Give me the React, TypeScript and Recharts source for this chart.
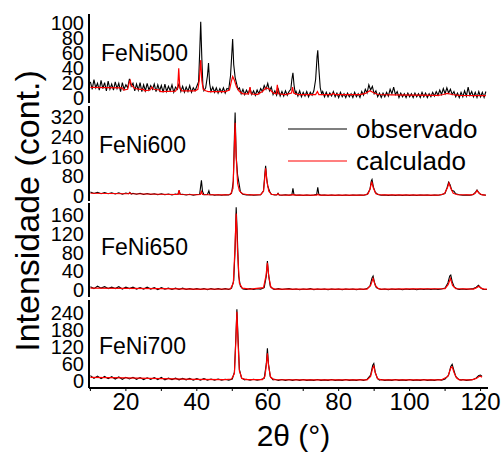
import { LineChart, Line, XAxis, YAxis, Legend, Label } from 'recharts';

// 2θ grid ticks
const xTicks = [10, 20, 30, 40, 50, 60, 70, 80, 90, 100, 110, 120];
const xLabelTicks = [20, 40, 60, 80, 100, 120];

const sampleNames = ['FeNi500', 'FeNi600', 'FeNi650', 'FeNi700'];
const seriesNames = ['observado', 'calculado'];

const yTicks500 = [0, 20, 40, 60, 80, 100];
const yTicks600 = [0, 80, 160, 240, 320];
const yTicks650 = [0, 40, 80, 120, 160];
const yTicks700 = [0, 60, 120, 180, 240];

// [2θ, intensity]
const obs500 = [
  [10, 22], [10.5, 12], [11, 25], [11.5, 14], [12, 20], [12.5, 11], [13, 24], [13.5, 13], [14, 21], [14.5, 10],
  [15, 23], [15.5, 12], [16, 19], [16.5, 11], [17, 22], [17.5, 13], [18, 20], [18.5, 9], [19, 21], [19.5, 12],
  [20, 18], [20.5, 14], [21, 26], [21.5, 16], [22, 20], [22.5, 10], [23, 19], [23.5, 11], [24, 21], [24.5, 9],
  [25, 18], [25.5, 10], [26, 20], [26.5, 11], [27, 17], [27.5, 12], [28, 19], [28.5, 9], [29, 18], [29.5, 10],
  [30, 17], [30.5, 8], [31, 19], [31.5, 9], [32, 16], [32.5, 10], [33, 18], [33.5, 8], [34, 15], [34.5, 12],
  [35, 20], [35.5, 9], [36, 16], [36.5, 8], [37, 15], [37.5, 9], [38, 17], [38.5, 8], [39, 14], [39.5, 10],
  [40, 16], [40.5, 22], [40.8, 60], [41.1, 102], [41.4, 55], [41.7, 18], [42, 10], [42.5, 14], [43, 30], [43.3, 47],
  [43.6, 20], [44, 9], [44.5, 15], [45, 8], [45.5, 14], [46, 7], [46.5, 13], [47, 8], [47.5, 14], [48, 7],
  [48.5, 13], [49, 12], [49.5, 30], [49.9, 62], [50.1, 79], [50.4, 45], [50.8, 28], [51.2, 20], [51.6, 12], [52, 14],
  [52.5, 6], [53, 12], [53.5, 5], [54, 11], [54.5, 6], [55, 13], [55.5, 5], [56, 10], [56.5, 4], [57, 11],
  [57.5, 6], [58, 13], [58.5, 9], [59, 17], [59.5, 12], [60, 20], [60.5, 10], [61, 15], [61.5, 5], [62, 10],
  [62.5, 4], [63, 12], [63.5, 3], [64, 9], [64.5, 3], [65, 10], [65.5, 4], [66, 9], [66.5, 12], [66.8, 25],
  [67.1, 34], [67.4, 18], [67.8, 5], [68, 9], [68.5, 3], [69, 10], [69.5, 2], [70, 8], [70.5, 3], [71, 9],
  [71.5, 2], [72, 8], [72.5, 4], [73, 10], [73.5, 25], [73.9, 55], [74.1, 64], [74.4, 40], [74.8, 14], [75.2, 6],
  [75.5, 9], [76, 2], [76.5, 8], [77, 2], [77.5, 7], [78, 3], [78.5, 9], [79, 2], [79.5, 7], [80, 1],
  [80.5, 8], [81, 2], [81.5, 6], [82, 1], [82.5, 7], [83, 2], [83.5, 6], [84, 1], [84.5, 8], [85, 2],
  [85.5, 6], [86, 1], [86.5, 9], [87, 4], [87.5, 12], [88, 7], [88.5, 18], [89, 11], [89.5, 16], [90, 6],
  [90.5, 10], [91, 2], [91.5, 7], [92, 1], [92.5, 7], [93, 2], [93.5, 8], [94, 3], [94.5, 12], [95, 6],
  [95.5, 15], [96, 5], [96.5, 9], [97, 1], [97.5, 7], [98, 2], [98.5, 6], [99, 1], [99.5, 7], [100, 2],
  [100.5, 6], [101, 1], [101.5, 7], [102, 2], [102.5, 6], [103, 1], [103.5, 8], [104, 2], [104.5, 7], [105, 1],
  [105.5, 6], [106, 2], [106.5, 8], [107, 3], [107.5, 9], [108, 4], [108.5, 11], [109, 5], [109.5, 13], [110, 6],
  [110.5, 14], [111, 7], [111.5, 12], [112, 5], [112.5, 9], [113, 2], [113.5, 7], [114, 1], [114.5, 8], [115, 2],
  [115.5, 10], [116, 3], [116.5, 15], [117, 4], [117.5, 9], [118, 2], [118.5, 8], [119, 1], [119.5, 9], [120, 2],
  [120.5, 8], [121, 1], [121.5, 9],
];

const calc500 = [
  [10, 14.5], [19, 14], [19.3, 11], [20.5, 12], [21, 22], [21.2, 24], [21.6, 17], [22.5, 13], [24, 12], [25, 12],
  [25.2, 10], [26.8, 11], [27.3, 15], [27.8, 12], [29.5, 11], [29.8, 9], [34, 9.5], [34.6, 14], [34.9, 40], [35.2, 14],
  [35.8, 10], [39.5, 10], [40.3, 12], [40.7, 24], [41.1, 51], [41.4, 24], [41.8, 12], [42.5, 10], [43.2, 9], [48, 9],
  [49.2, 11], [49.7, 22], [50.1, 29], [50.6, 24], [51.2, 15], [52, 9], [53, 6], [54.6, 6], [55, 15], [55.3, 6],
  [57, 5], [58.5, 9], [59.5, 14], [60.5, 12], [61.5, 7], [62.4, 6], [62.7, 18], [63, 6], [65, 5], [66.7, 7],
  [67, 15], [67.3, 7], [68.5, 5], [73.5, 5], [74, 9], [74.4, 5], [78, 5], [78.4, 6.5], [79, 5], [86, 5],
  [87.5, 6.5], [88.8, 10], [90, 7], [91, 5], [95, 4.5], [108, 4], [109.5, 5], [110.6, 6.5], [112, 5], [114, 4],
  [121.5, 3.5],
];

const obs600 = [
  [10, 15], [11, 9], [12, 14], [13, 8], [14, 13], [15, 8], [16, 12], [17, 7], [18, 12], [19, 6],
  [20, 11], [20.8, 8], [21.1, 14], [21.5, 7], [22, 10], [23, 6], [24, 10], [25, 5], [26, 9], [27, 5],
  [28, 8], [29, 4], [30, 8], [31, 4], [32, 7], [33, 3], [34, 7], [34.7, 5], [35, 22], [35.3, 5],
  [36, 6], [37, 3], [38, 6], [39, 2], [40, 5], [40.8, 6], [41.1, 40], [41.3, 63], [41.6, 18], [42, 4],
  [43, 5], [43.4, 20], [43.7, 4], [44.5, 4], [45, 2], [46, 4], [47, 2], [48, 4], [49, 3], [49.8, 10],
  [50.3, 60], [50.6, 240], [50.8, 339], [51.1, 160], [51.5, 84], [51.9, 50], [52.3, 15], [53, 6], [54, 3], [55, 4],
  [56, 2], [57, 3], [58, 4], [58.8, 20], [59.2, 90], [59.4, 122], [59.7, 70], [60, 40], [60.5, 18], [61, 6],
  [62, 3], [62.6, 4], [62.9, 10], [63.2, 3], [64, 2], [65, 4], [66, 2], [66.8, 4], [67.1, 30], [67.4, 4],
  [68, 2], [69, 3], [70, 1], [71, 3], [72, 1], [73, 3], [73.8, 6], [74.1, 34], [74.4, 6], [75, 2],
  [76, 3], [77, 1], [78, 3], [79, 1], [80, 3], [81, 1], [82, 3], [83, 1], [84, 3], [85, 2],
  [86, 3], [87, 2], [88, 5], [88.8, 25], [89.2, 60], [89.4, 66], [89.8, 35], [90.3, 14], [91, 5], [92, 2],
  [93, 3], [94, 1], [95, 3], [96, 1], [97, 3], [98, 1], [99, 3], [100, 1], [101, 3], [102, 1],
  [103, 3], [104, 2], [105, 3], [106, 1], [107, 3], [108, 2], [109, 4], [110, 10], [110.6, 35], [111, 55],
  [111.4, 45], [111.9, 22], [112.5, 18], [113, 8], [114, 4], [115, 2], [116, 3], [117, 2], [118, 5], [118.6, 15],
  [119, 23], [119.5, 12], [120, 5], [121, 3], [121.5, 2],
];

const calc600 = [
  [10, 10], [20, 8], [20.8, 8], [21.1, 12], [21.5, 8], [30, 6], [34.7, 5], [35, 22], [35.3, 5], [40, 4],
  [41, 5], [41.3, 17], [41.6, 5], [43, 4], [48, 3], [49.5, 5], [50.2, 30], [50.5, 160], [50.8, 298], [51.1, 160],
  [51.5, 50], [52, 20], [52.8, 8], [55, 3], [58, 4], [58.8, 18], [59.2, 80], [59.4, 112], [59.8, 55], [60.3, 18],
  [61, 6], [62.5, 3], [62.9, 8], [63.3, 3], [66, 2], [67.1, 4], [68, 2], [73.8, 2], [74.1, 6], [74.5, 2],
  [87, 2], [88.3, 8], [88.9, 30], [89.3, 57], [89.8, 30], [90.5, 8], [92, 3], [108, 2], [109.8, 8], [110.6, 30],
  [111.1, 52], [111.6, 30], [112.3, 10], [113.5, 4], [117.5, 3], [118.5, 10], [119, 21], [119.6, 10], [120.5, 3], [121.5, 2],
];

const obs650 = [
  [10, 7], [11, 3], [12, 8], [13, 4], [14, 7], [15, 3], [16, 6], [17, 3], [18, 7], [19, 2],
  [20, 6], [21, 3], [22, 6], [23, 2], [24, 5], [25, 2], [26, 6], [27, 2], [28, 5], [29, 1],
  [30, 5], [31, 2], [32, 4], [33, 1], [34, 4], [35, 1], [36, 4], [37, 1], [38, 3], [39, 1],
  [40, 3], [41, 1], [42, 3], [43, 0.5], [44, 3], [45, 1], [46, 3], [47, 1], [48, 3], [49, 1],
  [49.8, 4], [50.4, 20], [50.8, 90], [51.1, 177], [51.4, 120], [51.8, 30], [52.3, 8], [53, 2], [54, 1], [55, 3],
  [56, 1], [57, 3], [58, 2], [59, 5], [59.6, 30], [59.9, 62], [60.2, 35], [60.7, 8], [61.5, 2], [62, 1],
  [63, 3], [64, 1], [65, 2], [66, 3], [67, 1], [68, 2], [69, 0.5], [70, 2], [71, 1], [72, 3],
  [73, 0.5], [74, 2], [75, 1], [76, 2], [77, 0.5], [78, 2], [79, 1], [80, 2], [81, 0.5], [82, 2],
  [83, 1], [84, 2], [85, 0.5], [86, 2], [87, 1], [88, 3], [88.8, 8], [89.4, 26], [89.7, 30], [90.1, 16],
  [90.6, 5], [91.5, 2], [92, 1], [93, 2], [94, 0.5], [95, 2], [96, 1], [97, 2], [98, 0.5], [99, 2],
  [100, 1], [101, 2], [102, 0.5], [103, 2], [104, 1], [105, 2], [106, 1], [107, 2], [108, 1], [109, 2],
  [110, 4], [110.8, 15], [111.3, 30], [111.6, 32], [112, 18], [112.6, 6], [113.5, 2], [114, 1], [115, 2], [116, 1],
  [117, 2], [118, 3], [118.8, 6], [119.4, 10], [119.9, 6], [120.5, 2], [121, 1], [121.8, 1],
];

const calc650 = [
  [10, 4], [20, 3.5], [30, 3], [40, 2], [49.5, 2.5], [50.3, 15], [50.7, 80], [51.1, 164], [51.5, 80], [52, 15],
  [52.8, 4], [55, 2], [58.8, 5], [59.5, 30], [59.9, 58], [60.3, 28], [60.9, 5], [62, 2], [88, 2], [89, 10],
  [89.7, 25], [90.3, 10], [91.2, 3], [92, 2], [110, 3], [110.9, 12], [111.5, 25], [112.1, 10], [113, 3], [118, 2],
  [118.9, 5], [119.5, 8], [120.1, 4], [121, 2], [121.8, 2],
];

const obs700 = [
  [10, 18], [11, 8], [12, 16], [13, 7], [14, 15], [15, 7], [16, 14], [17, 6], [18, 13], [19, 5],
  [20, 12], [21, 6], [22, 12], [23, 5], [24, 11], [25, 4], [26, 10], [27, 5], [28, 11], [29, 4],
  [30, 12], [31, 3], [32, 9], [33, 4], [34, 9], [35, 3], [36, 8], [37, 3], [38, 8], [39, 2],
  [40, 7], [41, 2], [42, 7], [43, 2], [44, 6], [45, 2], [46, 6], [47, 2], [48, 5], [49, 2],
  [50, 6], [50.6, 30], [51, 150], [51.3, 252], [51.6, 160], [52, 40], [52.6, 10], [53.5, 3], [54, 5], [55, 2],
  [56, 5], [57, 2], [58, 4], [59, 8], [59.6, 60], [59.9, 114], [60.2, 60], [60.7, 15], [61.5, 3], [62, 5],
  [63, 1], [64, 4], [65, 1], [66, 4], [67, 1], [68, 4], [69, 1], [70, 4], [71, 1], [72, 3],
  [73, 1], [74, 4], [75, 1], [76, 3], [77, 1], [78, 4], [79, 1], [80, 3], [81, 1], [82, 4],
  [83, 1], [84, 3], [85, 1], [86, 4], [87, 1], [88, 5], [89, 20], [89.6, 55], [89.9, 61], [90.3, 30],
  [90.9, 8], [91.5, 2], [92, 4], [93, 1], [94, 3], [95, 1], [96, 4], [97, 1], [98, 3], [99, 1],
  [100, 4], [101, 1], [102, 3], [103, 1], [104, 4], [105, 1], [106, 3], [107, 1], [108, 4], [109, 2],
  [110, 6], [111, 20], [111.6, 50], [112, 58], [112.4, 40], [113, 15], [113.8, 5], [114.5, 2], [115, 4], [116, 1],
  [117, 3], [118, 4], [118.8, 10], [119.5, 18], [120, 20], [120.4, 15],
];

const calc700 = [
  [10, 12], [20, 10], [30, 7], [40, 5], [48, 4], [49.8, 6], [50.6, 25], [51, 140], [51.3, 243], [51.6, 140],
  [52, 35], [52.7, 8], [54, 4], [58.5, 4], [59.2, 15], [59.6, 55], [59.9, 97], [60.2, 55], [60.8, 12], [61.8, 4],
  [70, 3], [88, 3], [89, 15], [89.6, 45], [89.9, 52], [90.3, 28], [91, 7], [92, 3], [109, 3], [110.8, 15],
  [111.6, 45], [112, 49], [112.5, 30], [113.2, 10], [114, 3], [117.5, 3], [118.8, 8], [119.5, 14], [120, 16], [120.4, 12],
];

const FONT = '"Liberation Sans", Arial, sans-serif';
const X_DOMAIN: [number, number] = [9.6, 122.1];
const PAD = 12; // room above/below each plot so edge tick labels are not clipped
const toPts = (arr: number[][]) => arr.map(([x, y]) => ({ x, y }));

function LegendBox({ payload }: any) {
  const items = seriesNames
    .map((n) => (payload || []).find((p: any) => p.value === n))
    .filter(Boolean);
  return (
    <div style={{ fontFamily: FONT }}>
      {items.map((p: any) => (
        <div key={p.value} style={{ display: 'flex', alignItems: 'center', height: 32 }}>
          <svg width={60} height={4}>
            <line x1={0} y1={2} x2={59} y2={2} stroke={p.color} strokeWidth={1.2} />
          </svg>
          <span style={{ fontSize: 26, marginLeft: 8, color: '#000', lineHeight: '32px' }}>{p.value}</span>
        </div>
      ))}
    </div>
  );
}

interface PanelProps {
  obs: number[][];
  calc: number[][];
  domain: [number, number];
  yTicks: number[];
  top: number;
  plotH: number;
  bottom?: boolean;
  legend?: boolean;
}

function Panel({ obs, calc, domain, yTicks, top, plotH, bottom, legend }: PanelProps) {
  const axisH = bottom ? 66 : 0;
  const padB = bottom ? 0 : PAD;
  return (
    <div style={{ position: 'absolute', left: 0, top: top - PAD }}>
      <LineChart width={504} height={plotH + axisH + PAD + padB} margin={{ top: PAD, right: 16, bottom: padB, left: 0 }}>
        <XAxis
          xAxisId="b"
          dataKey="x"
          type="number"
          domain={X_DOMAIN}
          allowDataOverflow
          ticks={xTicks}
          height={axisH}
          tickSize={3}
          tickMargin={2}
          interval={0}
          axisLine={{ stroke: '#000', strokeWidth: 2 }}
          tickLine={{ stroke: '#000' }}
          tick={bottom ? { fontSize: 24, fill: '#000', fontFamily: FONT } : false}
          tickFormatter={(v: number) => (xLabelTicks.includes(v) ? String(v) : '')}
        >
          {bottom && <Label value="2θ (°)" position="insideBottom" offset={8} dx={5} style={{ fontSize: 30, fill: '#000', fontFamily: FONT }} />}
        </XAxis>
        <XAxis
          xAxisId="t"
          orientation="top"
          dataKey="x"
          type="number"
          domain={X_DOMAIN}
          allowDataOverflow
          ticks={xTicks}
          height={0}
          tickSize={3}
          tick={false}
          axisLine={{ stroke: '#000', strokeWidth: 2 }}
          tickLine={{ stroke: '#000' }}
        />
        <YAxis
          yAxisId="l"
          type="number"
          domain={domain}
          allowDataOverflow
          ticks={yTicks}
          interval={0}
          width={89}
          tickSize={3}
          tickMargin={2}
          tickLine={false}
          axisLine={{ stroke: '#000', strokeWidth: 2 }}
          tick={{ fontSize: 20, fill: '#000', fontFamily: FONT }}
        />
        <YAxis
          yAxisId="r"
          orientation="right"
          type="number"
          domain={domain}
          allowDataOverflow
          width={0}
          tick={false}
          tickLine={false}
          axisLine={{ stroke: '#000', strokeWidth: 2 }}
        />
        <Line
          xAxisId="b"
          yAxisId="l"
          data={toPts(obs)}
          dataKey="y"
          name={seriesNames[0]}
          type="linear"
          stroke="#000"
          strokeWidth={1.1}
          dot={false}
          isAnimationActive={false}
        />
        <Line
          xAxisId="b"
          yAxisId="l"
          data={toPts(calc)}
          dataKey="y"
          name={seriesNames[1]}
          type="linear"
          stroke="#ff0000"
          strokeWidth={1.2}
          dot={false}
          isAnimationActive={false}
        />
        {legend && (
          <Legend
            layout="vertical"
            align="center"
            verticalAlign="middle"
            content={<LegendBox />}
            wrapperStyle={{ left: 288, top: PAD + 7, width: 210, height: 64 }}
          />
        )}
      </LineChart>
    </div>
  );
}

export default function App() {
  return (
    <div style={{ position: 'absolute', left: 0, top: 0, width: 504, height: 454, background: '#fff', fontFamily: FONT }}>
      <Panel obs={obs500} calc={calc500} domain={[-6.3, 112.4]} yTicks={yTicks500} top={14} plotH={89} />
      <Panel obs={obs600} calc={calc600} domain={[-21.6, 366]} yTicks={yTicks600} top={106} plotH={95} legend />
      <Panel obs={obs650} calc={calc650} domain={[-15, 186.3]} yTicks={yTicks650} top={203} plotH={94} />
      <Panel obs={obs700} calc={calc700} domain={[-25.8, 284.9]} yTicks={yTicks700} top={300} plotH={88} bottom />
      <svg width={504} height={454} style={{ position: 'absolute', left: 0, top: 0, pointerEvents: 'none' }}>
        <text
          x={27}
          y={211}
          transform="rotate(-90 27 211)"
          textAnchor="middle"
          dominantBaseline="central"
          fontSize={34}
          fontFamily={FONT}
          fill="#000"
        >
          Intensidade (cont.)
        </text>
        <text x={101} y={61} fontSize={23} fontFamily={FONT} fill="#000">{sampleNames[0]}</text>
        <text x={99} y={153} fontSize={23} fontFamily={FONT} fill="#000">{sampleNames[1]}</text>
        <text x={101} y={255} fontSize={23} fontFamily={FONT} fill="#000">{sampleNames[2]}</text>
        <text x={99} y={354} fontSize={23} fontFamily={FONT} fill="#000">{sampleNames[3]}</text>
      </svg>
    </div>
  );
}
